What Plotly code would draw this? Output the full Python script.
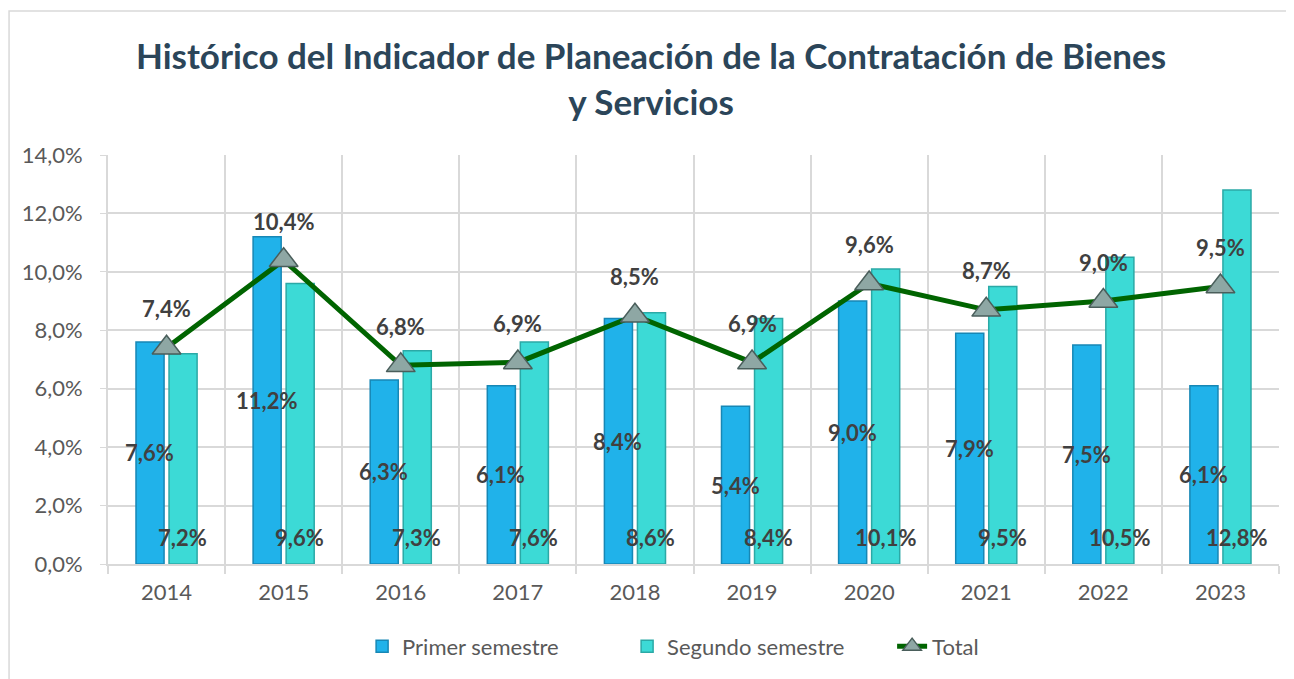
import plotly.graph_objects as go

years = ["2014", "2015", "2016", "2017", "2018", "2019", "2020", "2021", "2022", "2023"]
primer_semestre = [7.6, 11.2, 6.3, 6.1, 8.4, 5.4, 9.0, 7.9, 7.5, 6.1]
segundo_semestre = [7.2, 9.6, 7.3, 7.6, 8.6, 8.4, 10.1, 9.5, 10.5, 12.8]
total = [7.4, 10.4, 6.8, 6.9, 8.5, 6.9, 9.6, 8.7, 9.0, 9.5]
y_ticks = [0, 2, 4, 6, 8, 10, 12, 14]

TITLE = "Histórico del Indicador de Planeación de la Contratación de Bienes<br>y Servicios"
TITLE_COLOR = "#2B4559"
PRIMER_COLOR = "#20B2EA"
SEGUNDO_COLOR = "#3CDAD6"
TOTAL_COLOR = "#006400"
LABEL_COLOR = "#404040"
GRID_COLOR = "#D9D9D9"
FONT = "Lato"


def pct(v: float) -> str:
    return f"{v:.1f}".replace(".", ",") + "%"


fig = go.Figure()

fig.add_trace(go.Bar(
    x=years, y=primer_semestre, name="Primer semestre",
    marker=dict(color=PRIMER_COLOR, line=dict(color="#1787B5", width=1.5)),
))
fig.add_trace(go.Bar(
    x=years, y=segundo_semestre, name="Segundo semestre",
    marker=dict(color=SEGUNDO_COLOR, line=dict(color="#2BA9A6", width=1.5)),
))
fig.add_trace(go.Scatter(
    x=years, y=total, name="Total", mode="lines+markers",
    line=dict(color=TOTAL_COLOR, width=5),
    marker=dict(symbol="triangle-up", size=25, color="#8EA7A4",
                line=dict(color="#4A5E5B", width=1.5)),
))

# annotations on a category axis take the category index as x
annotations = []
label_font = dict(family=FONT, size=22, color=LABEL_COLOR, weight="bold")
for i, (p, s, t) in enumerate(zip(primer_semestre, segundo_semestre, total)):
    annotations.append(dict(x=i, y=p / 2, text=pct(p), showarrow=False,
                            xshift=-17, font=label_font))
    annotations.append(dict(x=i, y=0, text=pct(s), showarrow=False,
                            xshift=16, yshift=27, font=label_font))
    annotations.append(dict(x=i, y=t, text=pct(t), showarrow=False,
                            yshift=39, font=label_font))

# the page body adds an 8px offset, so the figure is sized to the visible window
fig.update_layout(
    width=1286, height=671,
    margin=dict(l=100, r=15, t=147, b=115),
    paper_bgcolor="white", plot_bgcolor="white",
    title=dict(text=TITLE, x=0.5, xanchor="center", y=0.909, yanchor="top",
               font=dict(family=FONT, size=35, color=TITLE_COLOR, weight="bold")),
    barmode="group", bargap=0.436, bargroupgap=0.15,
    font=dict(family=FONT, size=22, color="#595959"),
    legend=dict(orientation="h", x=0.217, xanchor="left", y=-0.15, yanchor="top",
                font=dict(family=FONT, size=22, color="#595959"),
                entrywidth=220, traceorder="normal"),
    annotations=annotations,
    shapes=[dict(type="rect", xref="paper", yref="paper",
                 x0=-0.0845, x1=1.2, y0=-0.5, y1=1.352,
                 line=dict(color=GRID_COLOR, width=1.5), layer="below")],
)
fig.update_xaxes(
    type="category", range=[-0.5, len(years) - 0.5], tickson="boundaries",
    showgrid=True, gridcolor=GRID_COLOR, gridwidth=2,
    ticks="outside", ticklen=8, tickcolor=GRID_COLOR, tickwidth=2,
    showline=True, linecolor=GRID_COLOR, linewidth=2, ticklabelstandoff=8,
    tickfont=dict(family=FONT, size=22, color="#595959"),
)
fig.update_yaxes(
    range=[0, 14], tickvals=y_ticks, ticktext=[pct(v) for v in y_ticks],
    showgrid=True, gridcolor=GRID_COLOR, gridwidth=2, zeroline=False,
    showline=True, linecolor=GRID_COLOR, linewidth=2,
    ticks="outside", ticklen=6, tickcolor=GRID_COLOR, ticklabelstandoff=13,
    tickfont=dict(family=FONT, size=22, color="#595959"),
)

fig.write_html("out.html")
